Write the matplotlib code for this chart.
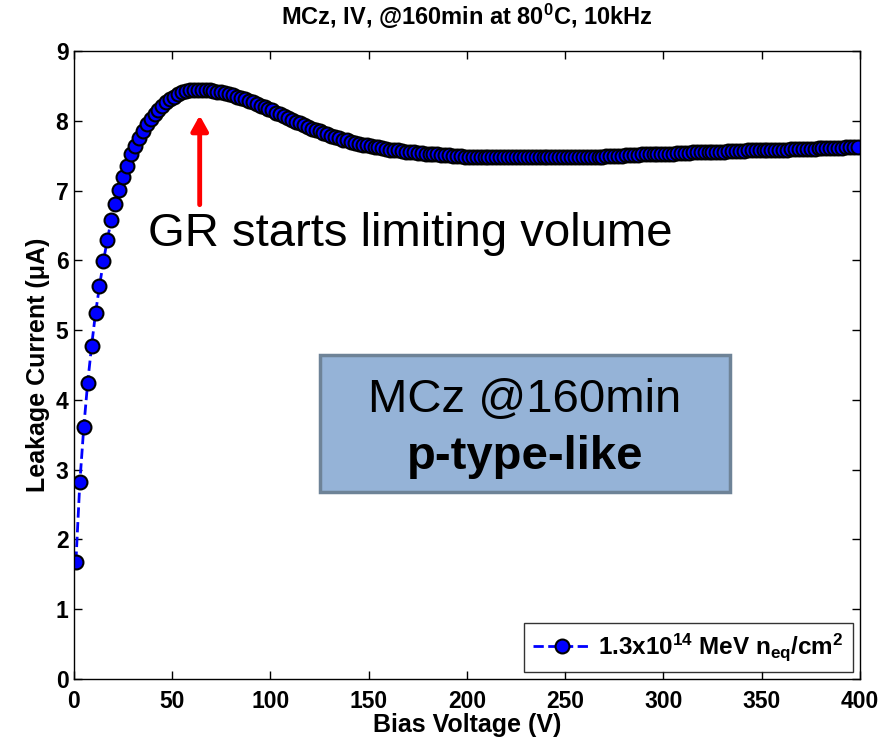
"""
plot.py
-------
Leakage current vs bias voltage for MCz after 160 min annealing at 80 C.
"""

import numpy as np
import matplotlib
matplotlib.use("Agg")
import matplotlib.pyplot as plt
from matplotlib.patches import Rectangle

# ── Data ──────────────────────────────────────────────────────────────────────

# measured every 2 V starting at 1 V
bias_v = np.arange(1, 400, 2)

current_ua = [
    # 1 .. 71 V (rise up to the peak)
    1.68, 2.82, 3.61, 4.25, 4.78, 5.25, 5.63, 5.99, 6.30, 6.58,
    6.81, 7.01, 7.20, 7.36, 7.52, 7.64, 7.76, 7.86, 7.95, 8.03,
    8.10, 8.16, 8.22, 8.27, 8.31, 8.35, 8.38, 8.41, 8.43, 8.44,
    8.45, 8.45, 8.45, 8.45, 8.44, 8.43,
    # 73 .. 399 V
    8.42, 8.41, 8.40, 8.39, 8.37, 8.35, 8.33, 8.31, 8.29, 8.27,
    8.25, 8.22, 8.20, 8.17, 8.15, 8.12, 8.10, 8.07, 8.04, 8.02,
    7.99, 7.97, 7.94, 7.92, 7.89, 7.87, 7.85, 7.83, 7.81, 7.79,
    7.77, 7.75, 7.73, 7.72, 7.70, 7.69, 7.67, 7.66, 7.65, 7.64,
    7.63, 7.62, 7.61, 7.60, 7.59, 7.58, 7.58, 7.57, 7.56, 7.56,
    7.55, 7.54, 7.54, 7.53, 7.53, 7.52, 7.52, 7.51, 7.51, 7.51,
    7.50, 7.50, 7.50, 7.49, 7.49, 7.49, 7.49, 7.48, 7.48, 7.48,
    7.48, 7.48, 7.48, 7.48, 7.48, 7.48, 7.48, 7.48, 7.48, 7.48,
    7.48, 7.48, 7.48, 7.48, 7.48, 7.48, 7.48, 7.48, 7.48, 7.48,
    7.48, 7.48, 7.48, 7.49, 7.49, 7.49, 7.49, 7.49, 7.49, 7.50,
    7.50, 7.50, 7.50, 7.50, 7.51, 7.51, 7.51, 7.51, 7.52, 7.52,
    7.52, 7.52, 7.52, 7.53, 7.53, 7.53, 7.53, 7.54, 7.54, 7.54,
    7.54, 7.55, 7.55, 7.55, 7.55, 7.55, 7.56, 7.56, 7.56, 7.56,
    7.57, 7.57, 7.57, 7.57, 7.57, 7.58, 7.58, 7.58, 7.58, 7.58,
    7.59, 7.59, 7.59, 7.59, 7.59, 7.59, 7.60, 7.60, 7.60, 7.60,
    7.60, 7.60, 7.60, 7.61, 7.61, 7.61, 7.61, 7.61, 7.61, 7.61,
    7.62, 7.62, 7.62, 7.62,
]

series_label = "1.3x10$^{14}$ MeV n$_{eq}$/cm$^{2}$"
x_ticks = [0, 50, 100, 150, 200, 250, 300, 350, 400]
y_ticks = [0, 1, 2, 3, 4, 5, 6, 7, 8, 9]

# ── Style ─────────────────────────────────────────────────────────────────────

plt.rcParams["font.family"] = ["Liberation Sans", "DejaVu Sans"]
plt.rcParams["mathtext.fontset"] = "custom"
plt.rcParams["mathtext.rm"] = "Liberation Sans:bold"
plt.rcParams["mathtext.bf"] = "Liberation Sans:bold"
plt.rcParams["mathtext.it"] = "Liberation Sans:bold"

# ── Figure ────────────────────────────────────────────────────────────────────

fig = plt.figure(figsize=(8.91, 7.42), dpi=100)
ax = fig.add_axes([0.083, 0.085, 0.882, 0.846])

ax.plot(bias_v, current_ua, "--o", color="#0000FF", lw=2.0,
        markersize=10, markerfacecolor="#0000FF", markeredgecolor="black",
        markeredgewidth=1.5, label=series_label)

ax.set_xlim(0, 400)
ax.set_ylim(0, 9)
ax.set_xticks(x_ticks)
ax.set_yticks(y_ticks)
ax.tick_params(direction="in", length=6, width=1, top=True, right=True,
               labelsize=16.5)
ax.tick_params(axis="x", pad=8)
ax.tick_params(axis="y", pad=4)
for lab in ax.get_xticklabels() + ax.get_yticklabels():
    lab.set_fontweight("bold")
for sp in ax.spines.values():
    sp.set_linewidth(1)

ax.set_xlabel("Bias Voltage (V)", fontsize=18, fontweight="bold", labelpad=0)
ax.set_ylabel("Leakage Current (μA)", fontsize=18, fontweight="bold", labelpad=4)
ax.set_title("MCz, IV, @160min at 80$^{0}$C, 10kHz", fontsize=17,
             fontweight="bold", pad=19)

leg = ax.legend(loc="lower right", fontsize=17.5, frameon=True, fancybox=False,
                edgecolor="black", handlelength=2.4, handletextpad=0.3,
                borderpad=0.35, borderaxespad=0.3, markerscale=1.0)
leg.get_frame().set_linewidth(1)
for t in leg.get_texts():
    t.set_fontweight("bold")

# ── Annotations ───────────────────────────────────────────────────────────────

ax.annotate("", xy=(64, 8.08), xytext=(64, 6.8),
            arrowprops=dict(arrowstyle="-|>,head_width=0.5,head_length=0.9",
                            color="red", lw=3.5, shrinkA=0, shrinkB=0))
ax.text(171, 6.2, "GR starts limiting volume", fontsize=34,
        ha="center", va="baseline", color="black")

box = Rectangle((0.313, 0.298), 0.522, 0.218, transform=ax.transAxes,
                facecolor="#95B3D7", edgecolor="#6E8397", lw=2.5, zorder=4)
ax.add_patch(box)
ax.text(0.574, 0.425, "MCz @160min", transform=ax.transAxes, fontsize=34,
        ha="center", va="baseline", zorder=5)
ax.text(0.574, 0.334, "p-type-like", transform=ax.transAxes, fontsize=34,
        fontweight="bold", ha="center", va="baseline", zorder=5)

fig.savefig("out.png", dpi=100)
